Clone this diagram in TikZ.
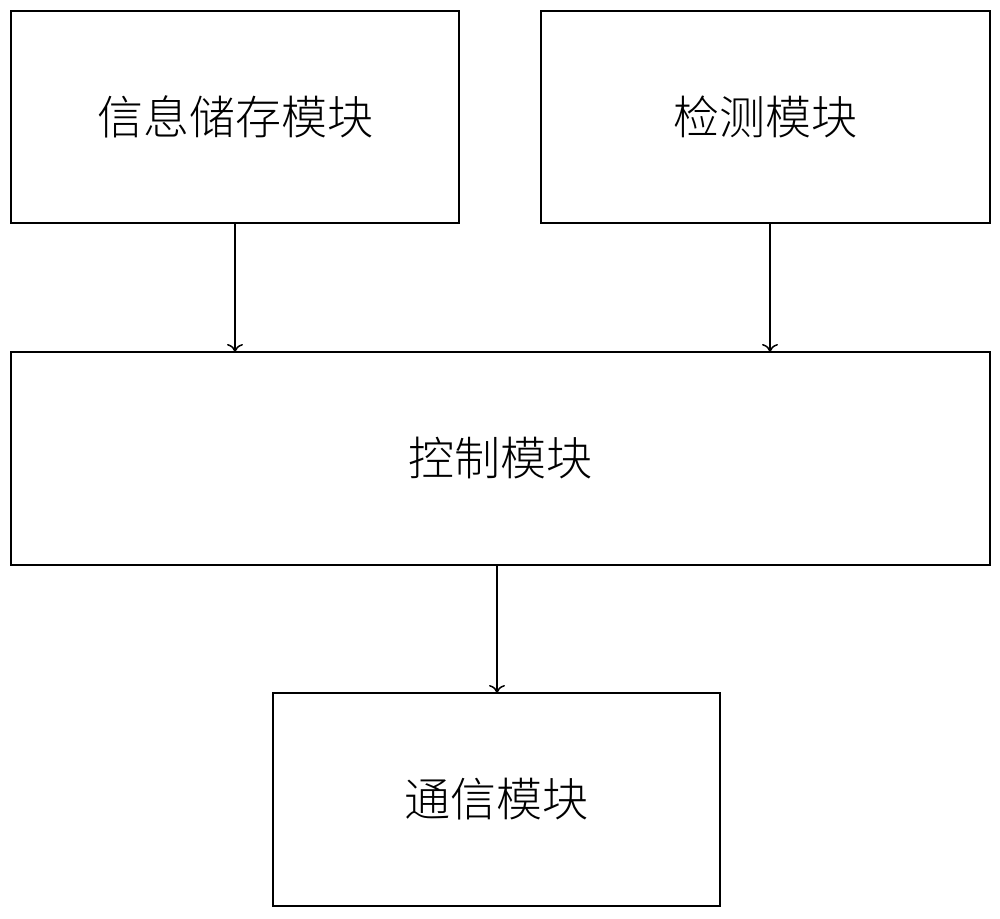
\documentclass[tikz,border=0pt]{standalone}
\usepackage{fontspec}
\usetikzlibrary{arrows.meta}
\newfontfamily\cjk{Noto Sans CJK SC Light}
\begin{document}
\begin{tikzpicture}[x=1pt,y=-1pt,
  box/.style={draw,line width=2pt,font=\cjk\fontsize{46}{54}\selectfont},
  arr/.style={draw,line width=1.5pt,-{To[length=8pt,width=16pt]}}]
\useasboundingbox (0,0) rectangle (1000,918);
\draw[box] (11,11) rectangle (459,223) node[midway] (a) {信息储存模块};
\draw[box] (541,11) rectangle (990,223) node[midway] (b) {检测模块};
\draw[box] (11,352) rectangle (990,565) node[midway] (c) {控制模块};
\draw[box] (273,693) rectangle (720,906) node[midway] (d) {通信模块};
\coordinate (a1) at (235,223); \coordinate (a2) at (235,352);
\coordinate (b1) at (770,223); \coordinate (b2) at (770,352);
\coordinate (c1) at (497,565); \coordinate (c2) at (497,693);
\draw[arr] (a1) -- (a2);
\draw[arr] (b1) -- (b2);
\draw[arr] (c1) -- (c2);
\end{tikzpicture}
\end{document}
